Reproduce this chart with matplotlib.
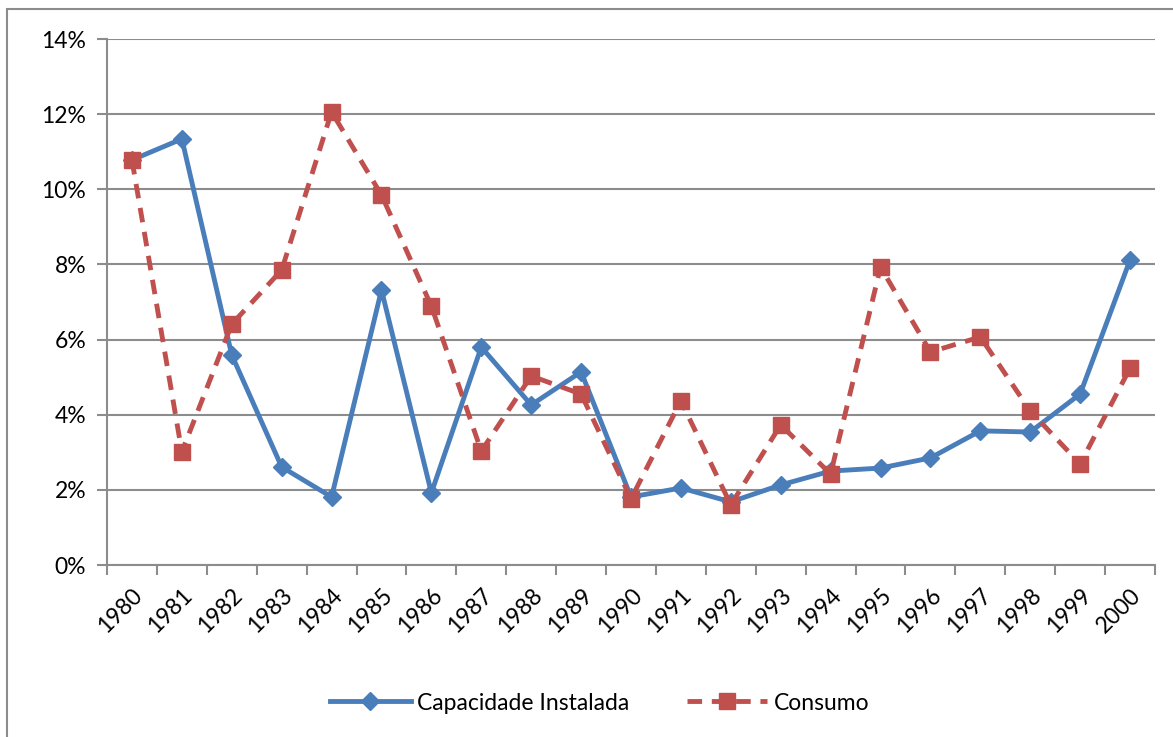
import numpy as np
import matplotlib.pyplot as plt
from matplotlib.patches import Rectangle

plt.rcParams['font.family'] = ['Lato', 'DejaVu Sans']

# Data (percent)
years = [str(y) for y in range(1980, 2001)]
capacidade = [10.78, 11.34, 5.59, 2.61, 1.81, 7.32, 1.92, 5.80, 4.26, 5.14, 1.81,
              2.05, 1.68, 2.13, 2.50, 2.58, 2.85, 3.57, 3.54, 4.55, 8.12]
consumo = [10.78, 3.01, 6.41, 7.85, 12.06, 9.85, 6.89, 3.03, 5.03, 4.55, 1.76,
           4.37, 1.60, 3.73, 2.42, 7.93, 5.67, 6.07, 4.10, 2.69, 5.24]

W, H = 1173, 737
fig = plt.figure(figsize=(W / 100, H / 100), dpi=100)

# outer chart frame (top/left visible)
fig.patches.append(Rectangle((7 / W, -0.05), 1.1, 1 - 9 / H + 0.05, transform=fig.transFigure,
                             fill=False, edgecolor='#8c8c8c', linewidth=1.5))

ax = fig.add_axes([107 / W, 1 - 565 / H, (1155 - 107) / W, (565 - 39) / H])

x = np.arange(len(years))
ax.plot(x, capacidade, color='#4a7ebb', linewidth=3.5, marker='D', markersize=9,
        label='Capacidade Instalada', zorder=3)
ax.plot(x, consumo, color='#c0504d', linewidth=3.5, linestyle=(0, (3, 2)), marker='s',
        markersize=12, label='Consumo', zorder=4)

ax.set_xlim(-0.5, len(years) - 0.5)
ax.set_ylim(0, 14)
ax.set_yticks(np.arange(0, 15, 2))
ax.set_yticklabels([f'{v}%' for v in range(0, 15, 2)], fontsize=16.5)
ax.yaxis.grid(True, color='#8c8c8c', linewidth=1.5)
ax.set_axisbelow(True)

# category ticks at boundaries, labels at centres
ax.set_xticks(np.arange(-0.5, len(years), 1))
ax.set_xticklabels([])
ax.set_xticks(x, minor=True)
ax.set_xticklabels(years, minor=True, rotation=45, ha='right', va='top',
                   rotation_mode='anchor', fontsize=16.5)
ax.tick_params(axis='x', which='minor', length=0, pad=14)
ax.tick_params(axis='x', which='major', length=7, color='#8c8c8c', width=1.5)
ax.tick_params(axis='y', length=7, color='#8c8c8c', width=1.5, pad=8)

for s in ['top', 'right']:
    ax.spines[s].set_visible(False)
for s in ['left', 'bottom']:
    ax.spines[s].set_color('#8c8c8c')
    ax.spines[s].set_linewidth(1.5)

fig.legend(loc='center', bbox_to_anchor=(600 / W, 1 - 703 / H), ncol=2, frameon=False,
           fontsize=16.5, handlelength=3.5, columnspacing=2.5, handletextpad=0.3)

fig.savefig('out.png', dpi=100)
